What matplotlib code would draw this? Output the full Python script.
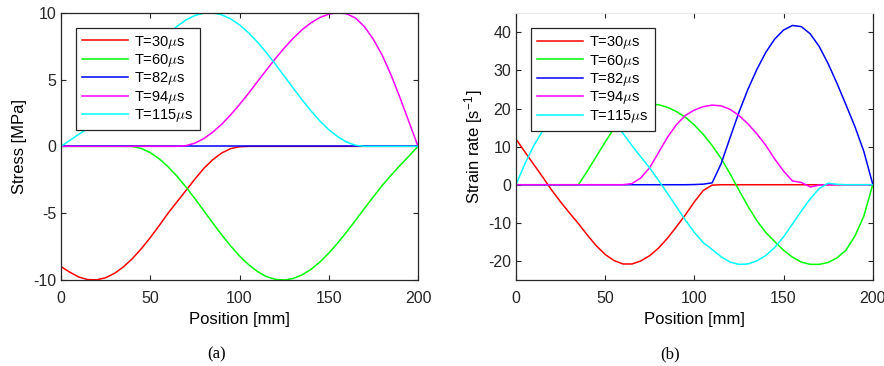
import numpy as np
import matplotlib
matplotlib.use('Agg')
import matplotlib.pyplot as plt

plt.rcParams['font.family'] = ['Liberation Sans', 'DejaVu Sans']
plt.rcParams['mathtext.fontset'] = 'cm'
plt.rcParams['axes.unicode_minus'] = False

position = list(range(0, 205, 5))
labels = [r'T=30$\mu$s', r'T=60$\mu$s', r'T=82$\mu$s', r'T=94$\mu$s', r'T=115$\mu$s']
colors = ['#ff0000', '#00ff00', '#0000ff', '#ff00ff', '#00ffff']

# stress [MPa], sampled every 5 mm
stress_30 = [-9.0, -9.42, -9.78, -9.97, -9.99, -9.83, -9.50, -9.02, -8.40, -7.66, -6.83,
             -5.93, -5.00, -4.15, -3.30, -2.45, -1.65, -1.00, -0.50, -0.17, -0.03,
             0, 0, 0, 0, 0, 0, 0, 0, 0, 0, 0, 0, 0, 0, 0, 0, 0, 0, 0, 0]
stress_60 = [0, 0, 0, 0, 0, 0, 0, 0, -0.01, -0.16, -0.47, -0.93, -1.53, -2.24, -3.04,
             -3.91, -4.82, -5.73, -6.62, -7.45, -8.20, -8.84, -9.36, -9.74, -9.95, -10.0,
             -9.89, -9.62, -9.21, -8.66, -7.99, -7.23, -6.41, -5.53, -4.64, -3.77, -2.92,
             -2.14, -1.42, -0.71, 0]
stress_82 = [0] * 41
stress_94 = [0, 0, 0, 0, 0, 0, 0, 0, 0, 0, 0, 0, 0, 0, 0.05, 0.24, 0.58, 1.06, 1.65,
             2.35, 3.13, 3.96, 4.83, 5.70, 6.55, 7.35, 8.08, 8.72, 9.24, 9.64, 9.89, 10.0,
             9.92, 9.6, 8.95, 8.0, 6.8, 5.3, 3.6, 1.8, 0]
stress_115 = [0, 0.45, 0.9, 1.35, 1.9, 2.6, 3.32, 4.19, 5.09, 5.99, 6.85, 7.66, 8.37,
              8.98, 9.46, 9.79, 9.97, 9.99, 9.84, 9.54, 9.09, 8.51, 7.81, 7.02, 6.16, 5.27,
              4.37, 3.49, 2.66, 1.90, 1.25, 0.72, 0.32, 0.08, 0, 0, 0, 0, 0, 0, 0]

# strain rate [1/s], sampled every 5 mm
rate_30 = [12.0, 8.6, 5.3, 2.0, -1.4, -4.5, -7.4, -10.2, -13.2, -16.0, -18.3, -19.9,
           -20.8, -20.8, -20.0, -18.6, -16.6, -14.0, -11.0, -7.9, -4.5, -1.5, -0.1,
           0, 0, 0, 0, 0, 0, 0, 0, 0, 0, 0, 0, 0, 0, 0, 0, 0, 0]
rate_60 = [0, 0, 0, 0, 0, 0, 0, 0, 3.6, 7.4, 11.2, 14.8, 17.8, 19.8, 20.8, 21.1, 21.0,
           20.3, 19.2, 17.7, 15.7, 13.2, 10.3, 6.9, 2.9, -1.4, -5.6, -9.4, -12.5, -14.9,
           -17.2, -19.0, -20.3, -20.9, -20.9, -20.4, -19.2, -17.2, -13.5, -8.3, 0]
rate_82 = [0, 0, 0, 0, 0, 0, 0, 0, 0, 0, 0, 0, 0, 0, 0, 0, 0, 0, 0, 0, 0.05, 0.15,
           0.5, 5.5, 12.3, 19.0, 25.0, 30.2, 34.7, 38.2, 40.6, 41.8, 41.5, 39.6, 36.3,
           31.8, 26.6, 21.0, 15.3, 8.8, 0.2]
rate_94 = [0, 0, 0, 0, 0, 0, 0, 0, 0, 0, 0, 0, 0, 0.3, 1.8, 4.5, 8.5, 12.5, 15.8, 18.2,
           19.6, 20.5, 20.9, 20.7, 19.8, 18.2, 16.0, 13.4, 10.4, 6.8, 3.6, 1.0, 0.6, -0.6,
           -0.1, 0, 0, 0, 0, 0, 0]
rate_115 = [0, 5.5, 10.3, 14.2, 17.2, 19.3, 20.5, 21.0, 20.9, 20.2, 18.8, 16.6, 13.5,
            10.3, 7.3, 4.4, 1.1, -2.3, -5.8, -9.3, -12.5, -15.2, -17.0, -18.9, -20.3,
            -20.9, -20.8, -20.0, -18.6, -16.5, -13.7, -10.3, -6.9, -3.7, -1.0, 0.4, 0.1,
            0, 0, 0, 0]

stress = [stress_30, stress_60, stress_82, stress_94, stress_115]
rate = [rate_30, rate_60, rate_82, rate_94, rate_115]

fig = plt.figure(figsize=(8.84, 3.66), dpi=100)
ax1 = fig.add_axes([0.0690, 0.2350, 0.4039, 0.7303])
ax2 = fig.add_axes([0.5837, 0.2350, 0.4035, 0.7287])

for ax, series in [(ax1, stress), (ax2, rate)]:
    for y, c, lab in zip(series, colors, labels):
        ax.plot(position, y, color=c, lw=1.1, label=lab)
    ax.set_xlim(0, 200)
    ax.set_xticks([0, 50, 100, 150, 200])
    ax.tick_params(direction='in', top=True, right=True, length=3.5, width=0.8,
                   labelsize=11.5, colors='#262626')
    ax.tick_params(axis='x', pad=8)
    for s in ax.spines.values():
        s.set_color('#262626')
        s.set_linewidth(0.9)
    ax.set_xlabel('Position [mm]', fontsize=12, labelpad=4)
    leg = ax.legend(loc='upper left', bbox_to_anchor=(0.042, 0.944), fontsize=10.5,
                    fancybox=False, framealpha=1, edgecolor='#262626',
                    handlelength=3.2, handletextpad=0.4, labelspacing=0.1,
                    borderpad=0.4, borderaxespad=0)
    leg.get_frame().set_linewidth(0.9)

ax1.set_ylim(-10, 10)
ax1.set_yticks([-10, -5, 0, 5, 10])
ax1.set_ylabel('Stress [MPa]', fontsize=12, labelpad=4)

ax2.set_ylim(-25, 45)
ax2.set_yticks([-20, -10, 0, 10, 20, 30, 40])
ax2.set_ylabel(r'Strain rate [s$^{\mathregular{-1}}$]', fontsize=12, labelpad=2)
ax2.spines['top'].set_color('#e8e8e8')

fig.text(0.2445, 0.02, '(a)', fontsize=12, family='Liberation Serif', ha='center')
fig.text(0.758, 0.02, '(b)', fontsize=12, family='Liberation Serif', ha='center')

plt.savefig('out.png', dpi=100)
